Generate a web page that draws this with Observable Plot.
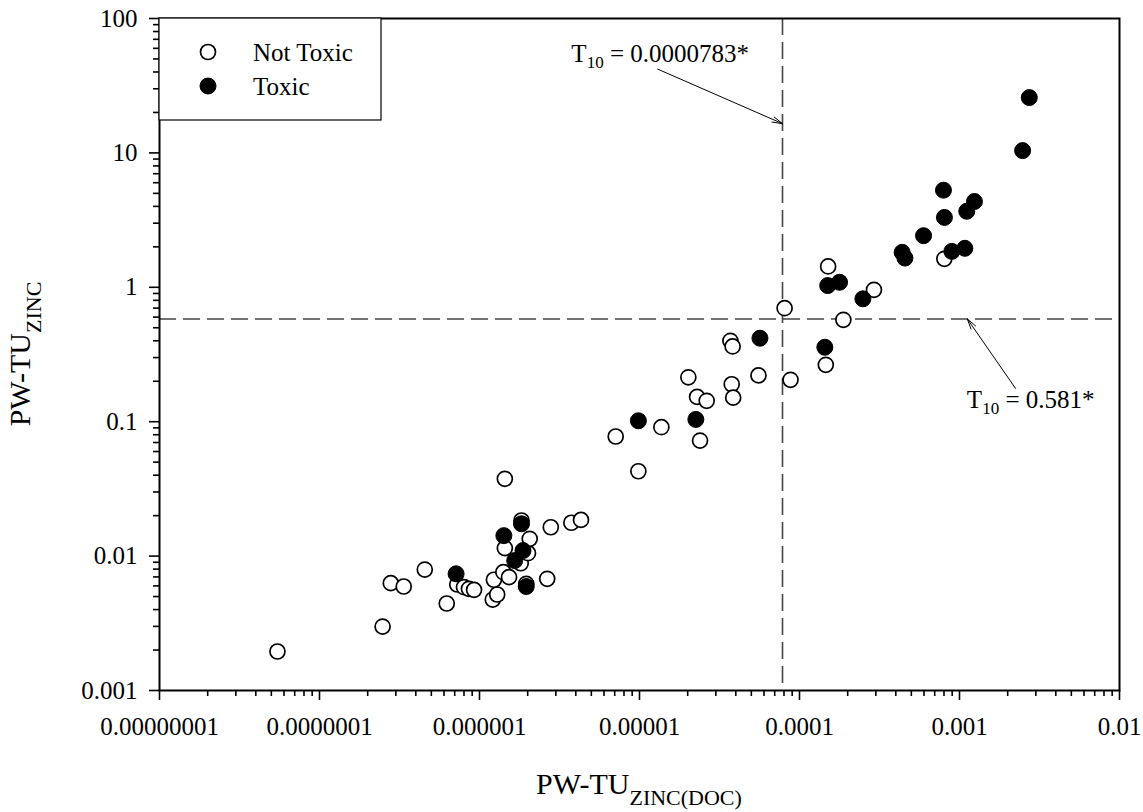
<!DOCTYPE html>
<html><head><meta charset="utf-8">
<script src="https://cdn.jsdelivr.net/npm/d3@7"></script>
<script src="https://cdn.jsdelivr.net/npm/@observablehq/plot@0.6"></script>
<style>body{margin:0;background:#fff;}</style>
</head><body><div id="chart"></div>
<script>
// ---- data ----
const notToxicX = [5.46e-8, 2.48e-7, 2.79e-7, 3.36e-7, 4.55e-7, 6.24e-7, 7.26e-7, 8.0e-7, 8.59e-7, 9.25e-7, 1.21e-6, 1.29e-6, 1.23e-6, 1.41e-6, 1.53e-6, 1.44e-6, 1.44e-6, 1.83e-6, 1.81e-6, 2.01e-6, 2.06e-6, 1.96e-6, 2.65e-6, 2.79e-6, 3.75e-6, 4.31e-6, 7.10e-6, 9.84e-6, 1.37e-5, 2.02e-5, 2.29e-5, 2.63e-5, 2.39e-5, 3.70e-5, 3.82e-5, 3.77e-5, 3.85e-5, 5.54e-5, 8.07e-5, 8.79e-5, 1.46e-4, 1.51e-4, 1.88e-4, 2.92e-4, 8.04e-4];
const notToxicY = [0.00195, 0.00299, 0.00629, 0.00594, 0.00794, 0.00444, 0.00615, 0.00587, 0.00571, 0.00561, 0.00475, 0.00518, 0.00667, 0.00759, 0.00697, 0.0376, 0.01146, 0.0184, 0.00885, 0.01051, 0.01345, 0.00622, 0.00678, 0.0164, 0.0177, 0.0186, 0.0776, 0.0428, 0.0910, 0.214, 0.153, 0.143, 0.0724, 0.400, 0.363, 0.190, 0.151, 0.221, 0.699, 0.205, 0.265, 1.43, 0.573, 0.958, 1.63];
const toxicX = [7.14e-7, 1.42e-6, 1.66e-6, 1.83e-6, 1.87e-6, 1.96e-6, 9.84e-6, 2.25e-5, 5.66e-5, 1.44e-4, 1.50e-4, 1.78e-4, 2.49e-4, 4.38e-4, 4.56e-4, 5.96e-4, 7.94e-4, 8.05e-4, 8.96e-4, 1.08e-3, 1.11e-3, 1.24e-3, 2.48e-3, 2.73e-3];
const toxicY = [0.00738, 0.0142, 0.00927, 0.0174, 0.0110, 0.00594, 0.1016, 0.104, 0.418, 0.358, 1.03, 1.09, 0.821, 1.82, 1.65, 2.42, 5.28, 3.31, 1.85, 1.95, 3.68, 4.35, 10.4, 25.8];

const xTicks = [1e-8, 1e-7, 1e-6, 1e-5, 1e-4, 1e-3, 1e-2];
const xTickLabels = ["0.00000001", "0.0000001", "0.000001", "0.00001", "0.0001", "0.001", "0.01"];
const yTicks = [0.001, 0.01, 0.1, 1, 10, 100];
const yTickLabels = ["0.001", "0.01", "0.1", "1", "10", "100"];

const thresholdX = 0.0000783;
const thresholdY = 0.581;
const arrowX1 = [1.30e-5, 2.24e-3];
const arrowY1 = [42.0, 0.177];
const arrowX2 = [0.0000783, 1.12e-3];
const arrowY2 = [16.5, 0.581];
const noteX = [4.87e-5, 1.12e-3];
const noteY = [47.1, 0.125];
const noteValue = ["0.0000783*", "0.581*"];
const noteAnchor = ["end", "start"];

const legendLabels = ["Not Toxic", "Toxic"];
const xTitle = ["PW-TU", "ZINC(DOC)"];
const yTitle = ["PW-TU", "ZINC"];

// ---- build tables ----
const notToxic = notToxicX.map((x, i) => ({x, y: notToxicY[i]}));
const toxic = toxicX.map((x, i) => ({x, y: toxicY[i]}));
const arrows = arrowX1.map((x1, i) => ({x1, y1: arrowY1[i], x2: arrowX2[i], y2: arrowY2[i]}));
const xLabelMap = new Map(xTicks.map((t, i) => [t, xTickLabels[i]]));
const yLabelMap = new Map(yTicks.map((t, i) => [t, yTickLabels[i]]));
const minorOf = (majors) => majors.slice(0, -1).flatMap(m => [2,3,4,5,6,7,8,9].map(k => +(m * k).toPrecision(6)));
const xMinor = minorOf(xTicks);
const yMinor = minorOf(yTicks);

const FONT = "'Liberation Serif','Times New Roman',serif";

const plot = Plot.plot({
  width: 1143, height: 812,
  marginLeft: 159, marginRight: 24, marginTop: 18, marginBottom: 122,
  style: {fontFamily: FONT, fontSize: "25px", background: "white", color: "black", overflow: "visible"},
  x: {type: "log", domain: [1e-8, 1e-2], label: null},
  y: {type: "log", domain: [0.001, 100], label: null},
  marks: [
    Plot.ruleX([thresholdX], {stroke: "#444", strokeWidth: 1.6, strokeDasharray: "17,7"}),
    Plot.ruleY([thresholdY], {stroke: "#444", strokeWidth: 1.6, strokeDasharray: "17,7"}),
    Plot.arrow(arrows, {x1: "x1", y1: "y1", x2: "x2", y2: "y2", stroke: "black", strokeWidth: 1, headLength: 16, headAngle: 30}),
    Plot.dot(notToxic, {x: "x", y: "y", r: 7.5, fill: "white", stroke: "black", strokeWidth: 1.7}),
    Plot.dot(toxic, {x: "x", y: "y", r: 8, fill: "black", stroke: "black", strokeWidth: 1}),
    Plot.axisX(xTicks, {tickSize: 10, tickPadding: 17, tickFormat: d => xLabelMap.get(d), strokeWidth: 1.6, label: null, fontSize: 25}),
    Plot.axisX(xMinor, {tickSize: 6, tickFormat: () => "", strokeWidth: 1.6, label: null}),
    Plot.axisY(yTicks, {tickSize: 10, tickPadding: 12, tickFormat: d => yLabelMap.get(d), strokeWidth: 1.6, label: null, fontSize: 25}),
    Plot.axisY(yMinor, {tickSize: 6, tickFormat: () => "", strokeWidth: 1.6, label: null}),
    Plot.frame({stroke: "black", strokeWidth: 2})
  ]
});

document.getElementById("chart").appendChild(plot);

// ---- annotations, legend and titles (positioned through Plot's scales) ----
const sx = plot.scale("x"), sy = plot.scale("y");
const svg = d3.select(plot);
const g = svg.append("g").attr("font-family", FONT).attr("fill", "black")
  .attr("text-anchor", "start").style("white-space", "pre");

function subText(sel, main, sub, rest, size, subSize, subDy) {
  sel.append("tspan").text(main).attr("font-size", size);
  sel.append("tspan").text(sub).attr("font-size", subSize).attr("dy", subDy);
  if (rest) sel.append("tspan").text(rest).attr("font-size", size).attr("dy", -subDy);
}

noteX.forEach((nx, i) => {
  const t = g.append("text")
    .attr("x", sx.apply(nx)).attr("y", sy.apply(noteY[i]))
    .attr("text-anchor", noteAnchor[i]);
  subText(t, "T", "10", " = " + noteValue[i], 25, 17, 6);
});

// legend
const lx = 159, ly = 18;
g.append("rect").attr("x", lx).attr("y", ly).attr("width", 222).attr("height", 102)
  .attr("fill", "white").attr("stroke", "black").attr("stroke-width", 1.2);
legendLabels.forEach((lab, i) => {
  const cy = ly + 34 + i * 34;
  g.append("circle").attr("cx", lx + 49).attr("cy", cy).attr("r", i === 0 ? 7.5 : 8)
    .attr("fill", i === 0 ? "white" : "black").attr("stroke", "black").attr("stroke-width", i === 0 ? 1.7 : 1);
  g.append("text").attr("x", lx + 94).attr("y", cy + 9).attr("font-size", 25)
    .attr("text-anchor", "start").text(lab);
});

// axis titles
const cx = (sx.range[0] + sx.range[1]) / 2;
const cyMid = (sy.range[0] + sy.range[1]) / 2;
const xt = g.append("text").attr("x", cx).attr("y", 794).attr("text-anchor", "middle");
subText(xt, xTitle[0], xTitle[1], null, 30, 22, 11);
const yt = g.append("text").attr("transform", `translate(30,${cyMid}) rotate(-90)`).attr("text-anchor", "middle");
subText(yt, yTitle[0], yTitle[1], null, 30, 22, 11);
</script>
</body></html>
